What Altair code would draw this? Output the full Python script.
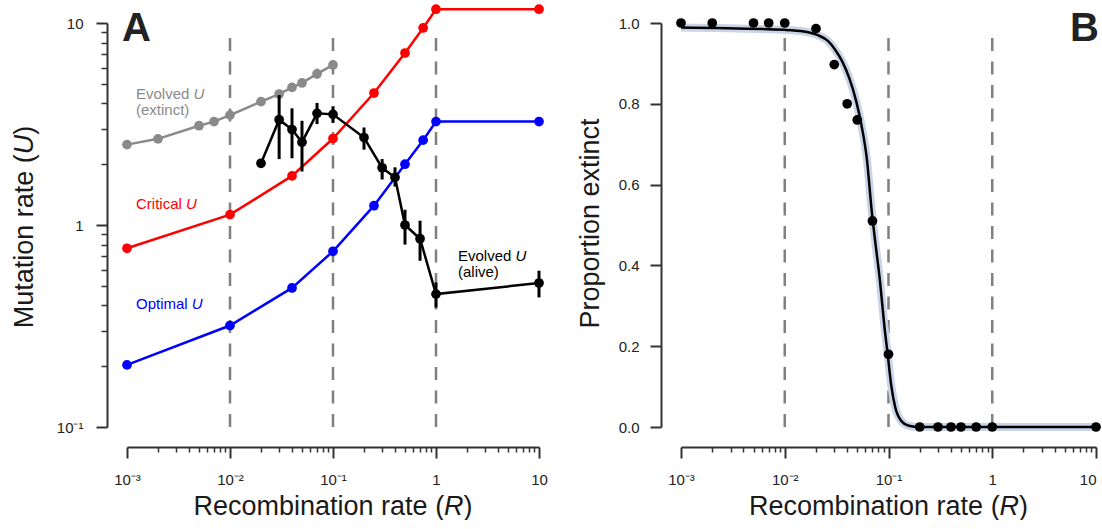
import altair as alt
import pandas as pd

FONT = "Liberation Sans"

# ---------------- Panel A data ----------------
R_THEORY = [0.001, 0.01, 0.04, 0.1, 0.25, 0.5, 0.75, 1, 10]
U_CRITICAL = [0.767, 1.125, 1.75, 2.68, 4.5, 7.1, 9.45, 11.7, 11.7]
U_OPTIMAL = [0.203, 0.318, 0.488, 0.741, 1.246, 2.0, 2.63, 3.25, 3.25]

R_EXTINCT = [0.001, 0.002, 0.005, 0.007, 0.01, 0.02, 0.03, 0.04, 0.05, 0.07, 0.1]
U_EXTINCT = [2.5, 2.67, 3.1, 3.25, 3.5, 4.08, 4.45, 4.8, 5.05, 5.6, 6.2]
R_EXTINCT_ERR = [0.07]
U_EXTINCT_LO = [5.3]
U_EXTINCT_HI = [5.95]

R_ALIVE = [0.02, 0.03, 0.04, 0.05, 0.07, 0.1, 0.2, 0.3, 0.4, 0.5, 0.7, 1, 10]
U_ALIVE = [2.02, 3.32, 2.97, 2.57, 3.57, 3.53, 2.71, 1.92, 1.72, 1.0, 0.855, 0.455, 0.516]
U_ALIVE_LO = [2.02, 2.12, 2.14, 1.84, 3.16, 3.2, 2.36, 1.68, 1.55, 0.80, 0.665, 0.39, 0.438]
U_ALIVE_HI = [2.02, 4.4, 3.78, 3.28, 4.02, 3.87, 3.04, 2.12, 1.93, 1.19, 1.05, 0.52, 0.594]

# ---------------- Panel B data ----------------
R_PROP = [0.001, 0.002, 0.005, 0.007, 0.01, 0.02, 0.03, 0.04, 0.05, 0.07, 0.1,
          0.2, 0.3, 0.4, 0.5, 0.7, 1, 10]
P_PROP = [1, 1, 1, 1, 1, 0.986, 0.897, 0.80, 0.76, 0.51, 0.18,
          0, 0, 0, 0, 0, 0, 0]
R_FIT = [0.001, 0.01, 0.0153, 0.0208, 0.0262, 0.0306, 0.0358, 0.0418, 0.0489,
         0.0548, 0.0617, 0.0692, 0.0748, 0.0828, 0.091, 0.0983, 0.106, 0.1166,
         0.134, 0.157, 0.2, 10]
P_FIT = [0.989, 0.983, 0.979, 0.970, 0.955, 0.934, 0.905, 0.864, 0.806,
         0.748, 0.666, 0.53, 0.455, 0.361, 0.253, 0.179, 0.105, 0.047,
         0.014, 0.003, 0.0, 0.0]

# ---------------- axes ----------------
R_GUIDES = [0.01, 0.1, 1]
R_MAJOR = [0.001, 0.01, 0.1, 1, 10]
U_MAJOR = [0.1, 1, 10]
P_MAJOR = [0, 0.2, 0.4, 0.6, 0.8, 1.0]
R_MINOR = [m * 10.0 ** e for e in range(-3, 1) for m in range(2, 10)]
U_MINOR = [m * 10.0 ** e for e in range(-1, 1) for m in range(2, 10)]

W1, W2, H = 412, 415, 404
AXC = "#333333"
LABC = "#222222"

R_LABELS = ("datum.value < 0.005 ? '10⁻³' : datum.value < 0.05 ? '10⁻²' : "
            "datum.value < 0.5 ? '10⁻¹' : datum.value < 5 ? '1' : '10'")
U_LABELS = "datum.value < 0.5 ? '10⁻¹' : datum.value < 5 ? '1' : '10'"


def major_x(flush_last=False):
    extra = {}
    if flush_last:
        extra["labelAlign"] = {"condition": {"test": "datum.value > 5", "value": "right"},
                               "value": "center"}
    return alt.Axis(orient="bottom", values=R_MAJOR, labelExpr=R_LABELS, title=None,
                    offset=20, tickSize=11, tickWidth=2, tickColor=AXC, domain=True,
                    domainColor=AXC, domainWidth=2, labelFont=FONT, labelFontSize=15,
                    labelColor=LABC, labelPadding=14, grid=False,
                    labelFlush=False, labelOverlap=False, **extra)


def minor_x():
    return alt.Axis(orient="bottom", values=R_MINOR, labels=False, title=None, offset=20,
                    tickSize=5, tickWidth=1.5, tickColor=AXC, domain=False,
                    grid=False)


xs1 = alt.Scale(type="log", domain=[0.001, 10], nice=False)
ys1 = alt.Scale(type="log", domain=[0.1, 10], nice=False)
xs2 = alt.Scale(type="log", domain=[0.001, 10], nice=False)
ys2 = alt.Scale(type="linear", domain=[0, 1], nice=False)


def txt(s, x, y, size=15, color="#000000", style="normal", weight="normal",
        angle=0, align="left", baseline="alphabetic"):
    return alt.Chart(pd.DataFrame({"t": [s]})).mark_text(
        align=align, baseline=baseline, angle=angle, fontSize=size, font=FONT,
        fontStyle=style, fontWeight=weight, color=color
    ).encode(text="t:N", x=alt.value(x), y=alt.value(y))


def series(R, U, color, xs, ys, width=2.5, interp="linear"):
    df = pd.DataFrame({"R": R, "U": U})
    base = alt.Chart(df).encode(
        x=alt.X("R:Q", scale=xs, axis=None),
        y=alt.Y("U:Q", scale=ys, axis=None),
    )
    return [base.mark_line(color=color, strokeWidth=width, interpolate=interp),
            base.mark_circle(color=color, size=95, opacity=1)]


def errbars(R, lo, hi, color, xs, ys):
    df = pd.DataFrame({"R": R, "lo": lo, "hi": hi})
    return alt.Chart(df).mark_rule(color=color, strokeWidth=3).encode(
        x=alt.X("R:Q", scale=xs, axis=None),
        y=alt.Y("lo:Q", scale=ys, axis=None),
        y2="hi:Q",
    )


# ---------------- Panel A ----------------
guides1 = alt.Chart(pd.DataFrame({"R": R_GUIDES, "lo": [0.1] * 3, "hi": [8.7] * 3})).mark_rule(
    color="#808080", strokeWidth=2.5, strokeDash=[13, 10.5]
).encode(
    x=alt.X("R:Q", scale=xs1, axis=major_x()),
    y=alt.Y("lo:Q", scale=ys1, axis=alt.Axis(
        orient="left", values=U_MAJOR, labelExpr=U_LABELS, title=None, offset=20,
        tickSize=11, tickWidth=2, tickColor=AXC, domain=True, domainColor=AXC,
        domainWidth=2, labelFont=FONT, labelFontSize=15, labelColor=LABC,
        labelPadding=13, grid=False, labelFlush=False, labelOverlap=False)),
    y2="hi:Q",
)

minor1 = alt.Chart(pd.DataFrame({"R": [1.0], "U": [1.0]})).mark_point(opacity=0).encode(
    x=alt.X("R:Q", scale=xs1, axis=minor_x()),
    y=alt.Y("U:Q", scale=ys1, axis=alt.Axis(
        orient="left", values=U_MINOR, labels=False, title=None, offset=20, tickSize=6,
        tickWidth=1.5, tickColor=AXC, domain=False, grid=False)),
)

layers1 = [guides1, minor1]
layers1 += [errbars(R_EXTINCT_ERR, U_EXTINCT_LO, U_EXTINCT_HI, "#8a8a8a", xs1, ys1)]
layers1 += series(R_EXTINCT, U_EXTINCT, "#8a8a8a", xs1, ys1)
layers1 += series(R_THEORY, U_CRITICAL, "#ff0000", xs1, ys1)
layers1 += series(R_THEORY, U_OPTIMAL, "#0000ff", xs1, ys1)
layers1 += [errbars(R_ALIVE, U_ALIVE_LO, U_ALIVE_HI, "#000000", xs1, ys1)]
layers1 += series(R_ALIVE, U_ALIVE, "#000000", xs1, ys1)

layers1 += [
    txt("Evolved ", 9, 76, color="#8a8a8a"),
    txt("U", 66.5, 76, color="#8a8a8a", style="italic"),
    txt("(extinct)", 9, 92, color="#8a8a8a"),
    txt("Critical ", 9, 186, color="#ff0000"),
    txt("U", 59, 186, color="#ff0000", style="italic"),
    txt("Optimal ", 9, 286, color="#0000ff"),
    txt("U", 64.8, 286, color="#0000ff", style="italic"),
    txt("Evolved ", 331, 238),
    txt("U", 388.5, 238, style="italic"),
    txt("(alive)", 331, 254),
    txt("A", -5, 18, size=40, weight="bold", color="#222222"),
    # y title
    txt("Mutation rate (", -94, 305.3, size=27, angle=270, color="#1a1a1a"),
    txt("U", -94, 131.2, size=27, angle=270, style="italic", color="#1a1a1a"),
    txt(")", -94, 111.7, size=27, angle=270, color="#1a1a1a"),
    # x title
    txt("Recombination rate (", 66.5, 492, size=27, color="#1a1a1a"),
    txt("R", 317.1, 492, size=27, style="italic", color="#1a1a1a"),
    txt(")", 336.6, 492, size=27, color="#1a1a1a"),
]

panelA = alt.layer(*layers1).resolve_axis(x="independent", y="independent").properties(
    width=W1, height=H)

# ---------------- Panel B ----------------
guides2 = alt.Chart(pd.DataFrame({"R": R_GUIDES, "lo": [0.0] * 3, "hi": [0.973] * 3})).mark_rule(
    color="#808080", strokeWidth=2.5, strokeDash=[13, 10.5]
).encode(
    x=alt.X("R:Q", scale=xs2, axis=major_x(flush_last=True)),
    y=alt.Y("lo:Q", scale=ys2, axis=alt.Axis(
        orient="left", values=P_MAJOR, format=".1f", title=None, offset=20, tickSize=11,
        tickWidth=2, tickColor=AXC, domain=True, domainColor=AXC, domainWidth=2,
        labelFont=FONT, labelFontSize=15, labelColor=LABC, labelPadding=11,
        grid=False, labelFlush=False, labelOverlap=False)),
    y2="hi:Q",
)

minor2 = alt.Chart(pd.DataFrame({"R": [1.0], "P": [0.5]})).mark_point(opacity=0).encode(
    x=alt.X("R:Q", scale=xs2, axis=minor_x()),
    y=alt.Y("P:Q", scale=ys2, axis=None),
)

fit_df = pd.DataFrame({"R": R_FIT, "P": P_FIT})
band = alt.Chart(fit_df).mark_line(color="#c8d4e8", strokeWidth=8, interpolate="monotone").encode(
    x=alt.X("R:Q", scale=xs2, axis=None), y=alt.Y("P:Q", scale=ys2, axis=None))
fit = alt.Chart(fit_df).mark_line(color="#000000", strokeWidth=2.5, interpolate="monotone").encode(
    x=alt.X("R:Q", scale=xs2, axis=None), y=alt.Y("P:Q", scale=ys2, axis=None))
pts = alt.Chart(pd.DataFrame({"R": R_PROP, "P": P_PROP})).mark_circle(
    color="#000000", size=95, opacity=1).encode(
    x=alt.X("R:Q", scale=xs2, axis=None), y=alt.Y("P:Q", scale=ys2, axis=None))

layers2 = [guides2, minor2, band, fit, pts,
           txt("B", 389, 18, size=40, weight="bold", color="#222222"),
           txt("Proportion extinct", -82, 200.5, size=27, angle=270,
               align="center", color="#1a1a1a"),
           txt("Recombination rate (", 68, 492, size=27, color="#1a1a1a"),
           txt("R", 318.6, 492, size=27, style="italic", color="#1a1a1a"),
           txt(")", 338.1, 492, size=27, color="#1a1a1a")]

panelB = alt.layer(*layers2).resolve_axis(x="independent", y="independent").properties(
    width=W2, height=H)

chart = alt.hconcat(panelA, panelB, spacing=142, bounds="flush").properties(
    padding={"left": 11, "top": 4, "right": -10, "bottom": 0}
).configure_view(stroke=None)

chart.save("out.html", embed_options={"renderer": "svg", "actions": False})
